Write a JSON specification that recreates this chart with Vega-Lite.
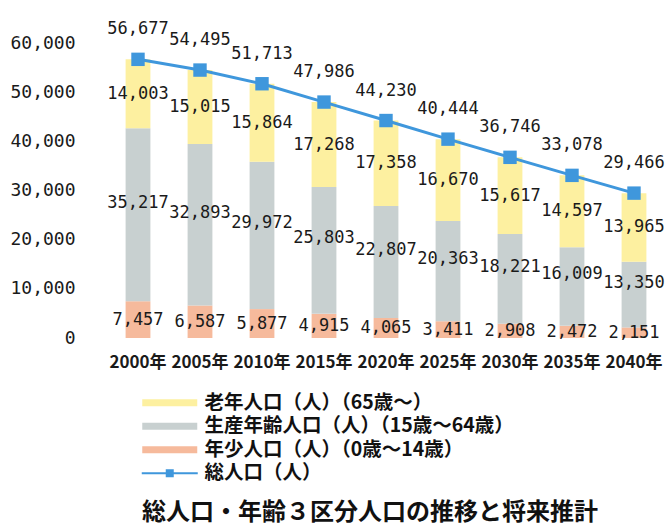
{
  "$schema": "https://vega.github.io/schema/vega-lite/v6.json",
  "autosize": {"type": "none"},
  "padding": {"left": 107, "top": 43, "right": 0, "bottom": 188},
  "width": 558,
  "height": 295,
  "background": "white",
  "title": {
    "text": "総人口・年齢３区分人口の推移と将来推計",
    "orient": "bottom",
    "anchor": "middle",
    "dx": -16,
    "offset": 18,
    "font": "Noto Sans CJK JP",
    "fontSize": 24,
    "fontWeight": "bold",
    "color": "#111111"
  },
  "config": {
    "view": {"stroke": null},
    "axis": {"grid": false, "ticks": false, "domain": false, "labelColor": "#1a1a1a"}
  },
  "datasets": {
    "pop": [
      {"year": "2000年", "group": "年少人口（人）（0歳～14歳）", "value": 7457},
      {"year": "2005年", "group": "年少人口（人）（0歳～14歳）", "value": 6587},
      {"year": "2010年", "group": "年少人口（人）（0歳～14歳）", "value": 5877},
      {"year": "2015年", "group": "年少人口（人）（0歳～14歳）", "value": 4915},
      {"year": "2020年", "group": "年少人口（人）（0歳～14歳）", "value": 4065},
      {"year": "2025年", "group": "年少人口（人）（0歳～14歳）", "value": 3411},
      {"year": "2030年", "group": "年少人口（人）（0歳～14歳）", "value": 2908},
      {"year": "2035年", "group": "年少人口（人）（0歳～14歳）", "value": 2472},
      {"year": "2040年", "group": "年少人口（人）（0歳～14歳）", "value": 2151},
      {"year": "2000年", "group": "生産年齢人口（人）（15歳～64歳）", "value": 35217},
      {"year": "2005年", "group": "生産年齢人口（人）（15歳～64歳）", "value": 32893},
      {"year": "2010年", "group": "生産年齢人口（人）（15歳～64歳）", "value": 29972},
      {"year": "2015年", "group": "生産年齢人口（人）（15歳～64歳）", "value": 25803},
      {"year": "2020年", "group": "生産年齢人口（人）（15歳～64歳）", "value": 22807},
      {"year": "2025年", "group": "生産年齢人口（人）（15歳～64歳）", "value": 20363},
      {"year": "2030年", "group": "生産年齢人口（人）（15歳～64歳）", "value": 18221},
      {"year": "2035年", "group": "生産年齢人口（人）（15歳～64歳）", "value": 16009},
      {"year": "2040年", "group": "生産年齢人口（人）（15歳～64歳）", "value": 13350},
      {"year": "2000年", "group": "老年人口（人）（65歳～）", "value": 14003},
      {"year": "2005年", "group": "老年人口（人）（65歳～）", "value": 15015},
      {"year": "2010年", "group": "老年人口（人）（65歳～）", "value": 15864},
      {"year": "2015年", "group": "老年人口（人）（65歳～）", "value": 17268},
      {"year": "2020年", "group": "老年人口（人）（65歳～）", "value": 17358},
      {"year": "2025年", "group": "老年人口（人）（65歳～）", "value": 16670},
      {"year": "2030年", "group": "老年人口（人）（65歳～）", "value": 15617},
      {"year": "2035年", "group": "老年人口（人）（65歳～）", "value": 14597},
      {"year": "2040年", "group": "老年人口（人）（65歳～）", "value": 13965}
    ],
    "total": [
      {"year": "2000年", "total": 56677},
      {"year": "2005年", "total": 54495},
      {"year": "2010年", "total": 51713},
      {"year": "2015年", "total": 47986},
      {"year": "2020年", "total": 44230},
      {"year": "2025年", "total": 40444},
      {"year": "2030年", "total": 36746},
      {"year": "2035年", "total": 33078},
      {"year": "2040年", "total": 29466}
    ]
  },
  "encoding": {
    "x": {
      "field": "year",
      "type": "nominal",
      "sort": null,
      "title": null,
      "scale": {"paddingInner": 0.6, "paddingOuter": 0.3},
      "axis": {
        "labelAngle": 0,
        "labelOverlap": false,
        "labelPadding": 16,
        "labelFont": "Noto Sans CJK JP",
        "labelFontSize": 17,
        "labelFontWeight": "bold"
      }
    }
  },
  "layer": [
    {
      "data": {"name": "pop"},
      "transform": [
        {"calculate": "indexof(['年少人口（人）（0歳～14歳）', '生産年齢人口（人）（15歳～64歳）', '老年人口（人）（65歳～）'], datum.group)", "as": "ord"}
      ],
      "mark": {"type": "bar"},
      "encoding": {
        "y": {
          "field": "value",
          "type": "quantitative",
          "stack": "zero",
          "title": null,
          "scale": {"domain": [0, 60000], "nice": false},
          "axis": {
            "values": [0, 10000, 20000, 30000, 40000, 50000, 60000],
            "format": ",.0f",
            "labelFont": "DejaVu Sans Mono",
            "labelFontSize": 18,
            "labelPadding": 32
          }
        },
        "order": {"field": "ord", "type": "quantitative", "sort": "ascending"},
        "color": {
          "field": "group",
          "type": "nominal",
          "scale": {
            "domain": ["老年人口（人）（65歳～）", "生産年齢人口（人）（15歳～64歳）", "年少人口（人）（0歳～14歳）", "総人口（人）"],
            "range": ["#fdf0a0", "#c8d0d0", "#f6ba9c", "#3f97dc"]
          },
          "legend": {
            "title": null,
            "orient": "none",
            "legendX": 53,
            "legendY": 350,
            "padding": 0,
            "rowPadding": 2.5,
            "symbolSize": 64,
            "symbolStrokeWidth": 0,
            "labelOffset": 25,
            "labelFont": "Noto Sans CJK JP",
            "labelFontSize": 19.5,
            "labelFontWeight": "bold",
            "labelColor": "#111111",
            "labelLimit": 400,
            "encode": {
              "symbols": {
                "update": {
                  "shape": {"signal": "datum.value === '総人口（人）' ? 'M-7,-0.25H7V0.25H-7Z M-1,-1H1V1H-1Z' : 'M-6.875,-0.85H6.875V0.85H-6.875Z'"},
                  "fill": {"scale": "color", "field": "value"},
                  "stroke": {"value": "transparent"},
                  "opacity": {"value": 1},
                  "size": {"value": 64}
                }
              }
            }
          }
        }
      }
    },
    {
      "data": {"name": "total"},
      "mark": {"type": "line", "strokeWidth": 3},
      "encoding": {
        "y": {"field": "total", "type": "quantitative"},
        "color": {"datum": "総人口（人）"}
      }
    },
    {
      "data": {"name": "total"},
      "mark": {"type": "point", "shape": "square", "filled": true, "size": 180, "opacity": 1},
      "encoding": {
        "y": {"field": "total", "type": "quantitative"},
        "color": {"datum": "総人口（人）"}
      }
    },
    {
      "data": {"name": "total"},
      "mark": {"type": "text", "dy": -30, "font": "DejaVu Sans Mono", "fontSize": 17, "color": "#1a1a1a", "baseline": "middle"},
      "encoding": {
        "y": {"field": "total", "type": "quantitative"},
        "text": {"field": "total", "type": "quantitative", "format": ","}
      }
    },
    {
      "data": {"name": "pop"},
      "transform": [
        {"calculate": "indexof(['年少人口（人）（0歳～14歳）', '生産年齢人口（人）（15歳～64歳）', '老年人口（人）（65歳～）'], datum.group)", "as": "ord"},
        {"stack": "value", "groupby": ["year"], "sort": [{"field": "ord", "order": "ascending"}], "as": ["v0", "v1"]},
        {"calculate": "(datum.v0 + datum.v1) / 2", "as": "mid"},
        {"filter": "datum.ord !== 1"}
      ],
      "mark": {"type": "text", "font": "DejaVu Sans Mono", "fontSize": 17, "color": "#1a1a1a", "baseline": "middle"},
      "encoding": {
        "y": {"field": "mid", "type": "quantitative"},
        "text": {"field": "value", "type": "quantitative", "format": ","}
      }
    },
    {
      "data": {"name": "pop"},
      "transform": [
        {"calculate": "indexof(['年少人口（人）（0歳～14歳）', '生産年齢人口（人）（15歳～64歳）', '老年人口（人）（65歳～）'], datum.group)", "as": "ord"},
        {"stack": "value", "groupby": ["year"], "sort": [{"field": "ord", "order": "ascending"}], "as": ["v0", "v1"]},
        {"calculate": "(datum.v0 + datum.v1) / 2", "as": "mid"},
        {"filter": "datum.ord === 1"}
      ],
      "mark": {"type": "text", "dy": -12, "font": "DejaVu Sans Mono", "fontSize": 17, "color": "#1a1a1a", "baseline": "middle"},
      "encoding": {
        "y": {"field": "mid", "type": "quantitative"},
        "text": {"field": "value", "type": "quantitative", "format": ","}
      }
    }
  ]
}
